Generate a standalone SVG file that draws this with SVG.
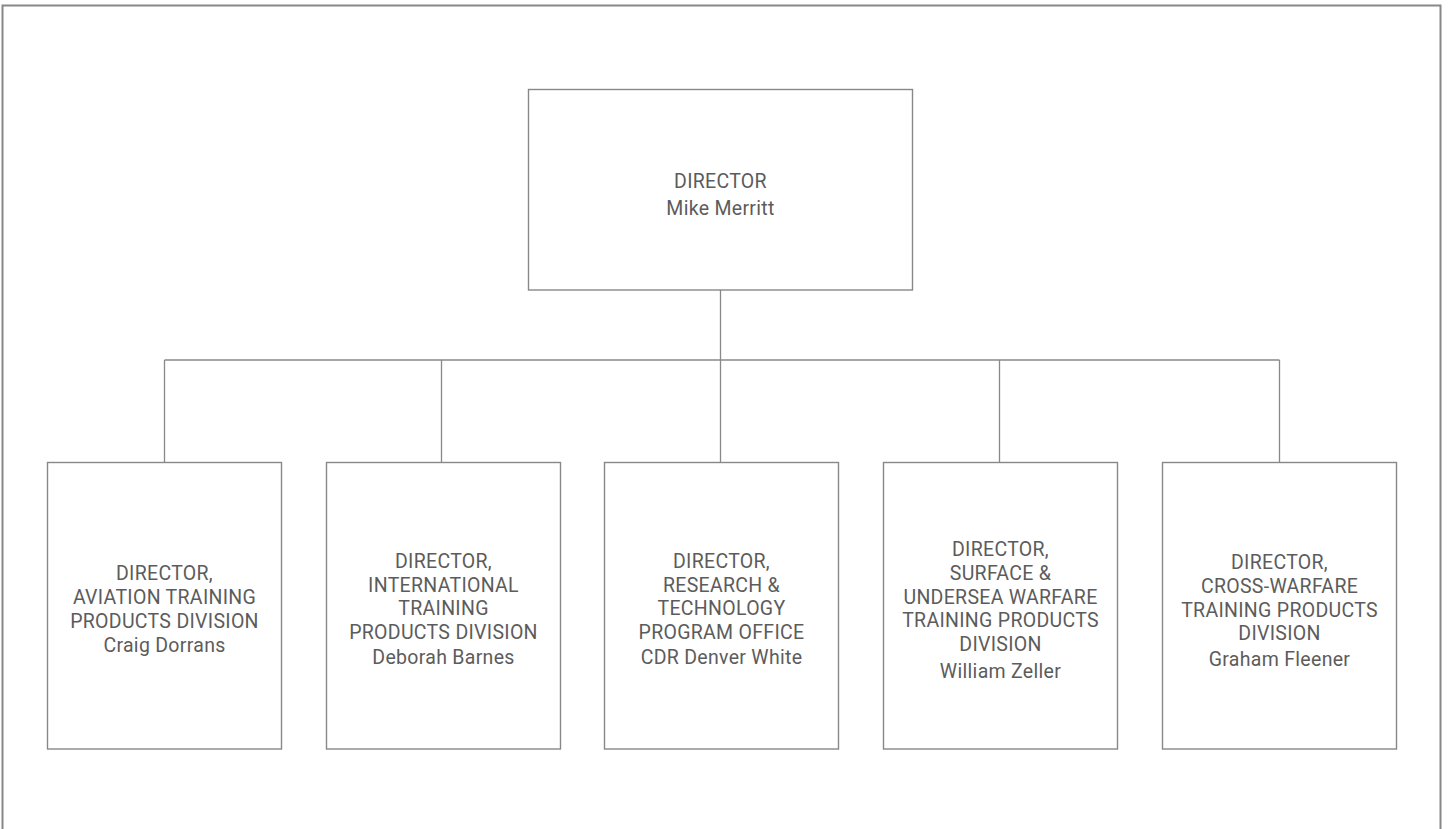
<svg xmlns="http://www.w3.org/2000/svg" width="1448" height="829" viewBox="0 0 1448 829">
<style>
.box{fill:#fff;stroke:#888;stroke-width:1.4}
.ln{fill:none;stroke:#888;stroke-width:1.3}
.frame{fill:none;stroke:#888;stroke-width:2}
text{font-family:Roboto,"Liberation Sans",sans-serif;font-size:19.5px;letter-spacing:0.3px;fill:#5c5c5c;text-anchor:middle}
</style>
<rect width="1448" height="829" fill="#fff"/>
<path class="frame" d="M2.5,829 V5.5 H1440.5 V829"/>
<g id="connectors">
<path class="ln" d="M720.5,290 V360"/>
<path class="ln" d="M164.5,360 H1279.5"/>
<path class="ln" d="M164.5,360 V462.5 M441.5,360 V462.5 M720.5,360 V462.5 M999.5,360 V462.5 M1279.5,360 V462.5"/>
</g>
<g id="director">
<rect class="box" x="528.5" y="89.5" width="384" height="200.5"/>
<text x="720.5" y="188">DIRECTOR</text>
<text x="720.5" y="215">Mike Merritt</text>
</g>
<g id="aviation">
<rect class="box" x="47.5" y="462.5" width="234" height="286.5"/>
<text x="164.5" y="580">DIRECTOR,</text>
<text x="164.5" y="604">AVIATION TRAINING</text>
<text x="164.5" y="627.5">PRODUCTS DIVISION</text>
<text x="164.5" y="652">Craig Dorrans</text>
</g>
<g id="international">
<rect class="box" x="326.5" y="462.5" width="234" height="286.5"/>
<text x="443.5" y="568">DIRECTOR,</text>
<text x="443.5" y="591.7">INTERNATIONAL</text>
<text x="443.5" y="615">TRAINING</text>
<text x="443.5" y="639">PRODUCTS DIVISION</text>
<text x="443.5" y="664">Deborah Barnes</text>
</g>
<g id="research">
<rect class="box" x="604.5" y="462.5" width="234" height="286.5"/>
<text x="721.5" y="568">DIRECTOR,</text>
<text x="721.5" y="591.7">RESEARCH &amp;</text>
<text x="721.5" y="615">TECHNOLOGY</text>
<text x="721.5" y="639">PROGRAM OFFICE</text>
<text x="721.5" y="664">CDR Denver White</text>
</g>
<g id="surface">
<rect class="box" x="883.5" y="462.5" width="234" height="286.5"/>
<text x="1000.5" y="556">DIRECTOR,</text>
<text x="1000.5" y="579.5">SURFACE &amp;</text>
<text x="1000.5" y="603.5">UNDERSEA WARFARE</text>
<text x="1000.5" y="627">TRAINING PRODUCTS</text>
<text x="1000.5" y="651">DIVISION</text>
<text x="1000.5" y="677.5">William Zeller</text>
</g>
<g id="crosswarfare">
<rect class="box" x="1162.5" y="462.5" width="234" height="286.5"/>
<text x="1279.5" y="569">DIRECTOR,</text>
<text x="1279.5" y="593">CROSS-WARFARE</text>
<text x="1279.5" y="616.7">TRAINING PRODUCTS</text>
<text x="1279.5" y="640">DIVISION</text>
<text x="1279.5" y="666">Graham Fleener</text>
</g>
</svg>
